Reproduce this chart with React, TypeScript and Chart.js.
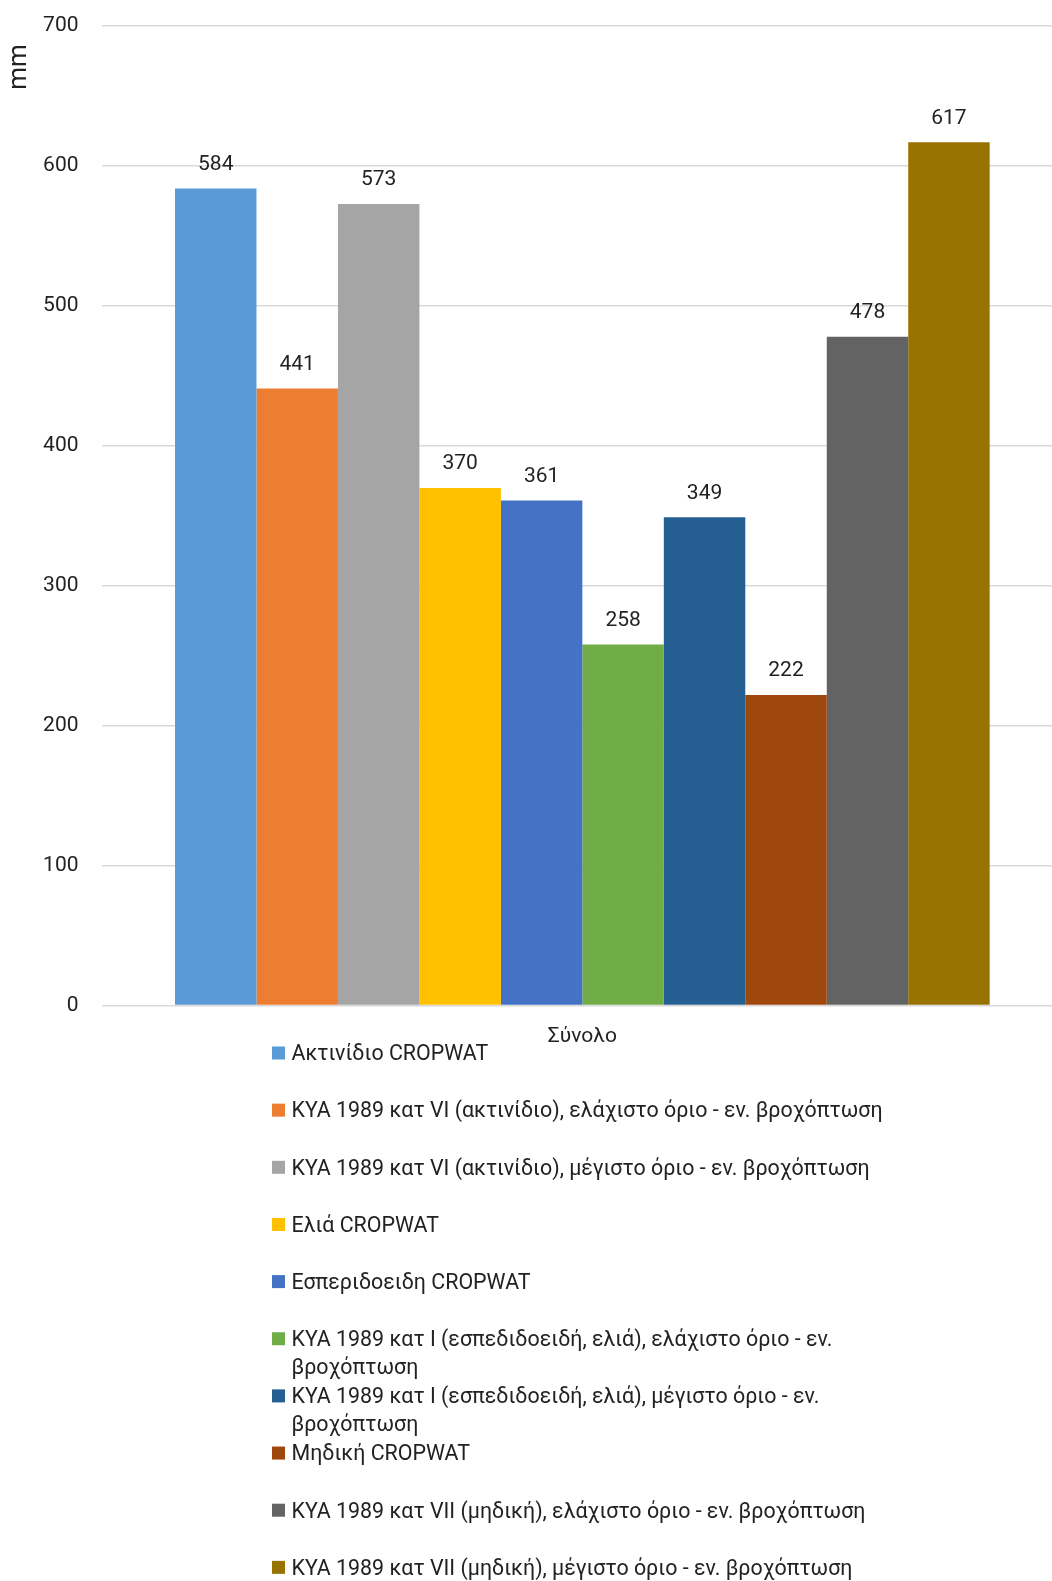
import React, { useEffect, useRef } from "react";
import { Chart, registerables } from "chart.js";

Chart.register(...registerables);

// Irrigation water requirements (mm), single category "Σύνολο"
const categories = ["Σύνολο"];

const seriesLabels = [
  "Ακτινίδιο CROPWAT",
  "ΚΥΑ 1989 κατ VI (ακτινίδιο), ελάχιστο όριο - εν. βροχόπτωση",
  "ΚΥΑ 1989 κατ VI (ακτινίδιο), μέγιστο όριο - εν. βροχόπτωση",
  "Ελιά CROPWAT",
  "Εσπεριδοειδη CROPWAT",
  "ΚΥΑ 1989 κατ I (εσπεδιδοειδή, ελιά), ελάχιστο όριο - εν. βροχόπτωση",
  "ΚΥΑ 1989 κατ I (εσπεδιδοειδή, ελιά), μέγιστο όριο - εν. βροχόπτωση",
  "Μηδική CROPWAT",
  "ΚΥΑ 1989 κατ VII (μηδική), ελάχιστο όριο - εν. βροχόπτωση",
  "ΚΥΑ 1989 κατ VII (μηδική), μέγιστο όριο - εν. βροχόπτωση",
];

const seriesValues = [584, 441, 573, 370, 361, 258, 349, 222, 478, 617];

const seriesColors = [
  "#5B9BD5",
  "#ED7D31",
  "#A5A5A5",
  "#FFC000",
  "#4472C4",
  "#70AD47",
  "#255E91",
  "#9E480E",
  "#636363",
  "#997300",
];

const yTicks = [0, 100, 200, 300, 400, 500, 600, 700];
const yTitle = "mm";

const FONT = "Roboto";
const TEXT = "#222222";

function wrapText(ctx: CanvasRenderingContext2D, text: string, maxWidth: number): string[] {
  const words = text.split(" ");
  const lines: string[] = [];
  let line = "";
  for (const w of words) {
    const test = line ? line + " " + w : w;
    if (ctx.measureText(test).width > maxWidth && line) {
      lines.push(line);
      line = w;
    } else {
      line = test;
    }
  }
  if (line) lines.push(line);
  return lines;
}

// Value labels above each bar
const valueLabels = {
  id: "valueLabels",
  afterDatasetsDraw(chart: any) {
    const ctx: CanvasRenderingContext2D = chart.ctx;
    ctx.save();
    ctx.font = `21px ${FONT}`;
    ctx.fillStyle = TEXT;
    ctx.textAlign = "center";
    ctx.textBaseline = "middle";
    chart.data.datasets.forEach((ds: any, i: number) => {
      const meta = chart.getDatasetMeta(i);
      meta.data.forEach((bar: any, j: number) => {
        ctx.fillText(String(ds.data[j]), bar.x, bar.y - 24);
      });
    });
    ctx.restore();
  },
};

// Rotated axis title at the top-left, and the one-per-row legend underneath
const titleAndLegend = {
  id: "titleAndLegend",
  afterDraw(chart: any) {
    const ctx: CanvasRenderingContext2D = chart.ctx;
    ctx.save();
    ctx.fillStyle = TEXT;
    ctx.font = `26px ${FONT}`;
    ctx.translate(19, 67);
    ctx.rotate(-Math.PI / 2);
    ctx.textAlign = "center";
    ctx.textBaseline = "middle";
    ctx.fillText(yTitle, 0, 0);
    ctx.restore();

    ctx.save();
    ctx.font = `21.4px ${FONT}`;
    ctx.textAlign = "left";
    ctx.textBaseline = "middle";
    const left = 272;
    const box = 13;
    const rowStep = 57.15;
    const lineStep = 28.2;
    const firstRow = 1053;
    chart.data.datasets.forEach((ds: any, i: number) => {
      const cy = firstRow + i * rowStep;
      ctx.fillStyle = ds.backgroundColor;
      ctx.fillRect(left, cy - box / 2, box, box);
      ctx.fillStyle = TEXT;
      const lines = wrapText(ctx, ds.label, 630);
      lines.forEach((ln, k) => ctx.fillText(ln, left + box + 6.5, cy + 2 + k * lineStep));
    });
    ctx.restore();
  },
};

export default function App() {
  const canvasRef = useRef<HTMLCanvasElement | null>(null);

  useEffect(() => {
    const canvas = canvasRef.current;
    if (!canvas) return;
    const chart = new Chart(canvas, {
      type: "bar",
      data: {
        labels: categories,
        datasets: seriesLabels.map((label, i) => ({
          label,
          data: [seriesValues[i]],
          backgroundColor: seriesColors[i],
          borderWidth: 0,
          categoryPercentage: 0.848,
          barPercentage: 1,
        })),
      },
      options: {
        responsive: false,
        devicePixelRatio: 1,
        animation: false,
        layout: { padding: { top: 26.2, left: 0, right: 1.3, bottom: 525.4 } },
        plugins: {
          legend: { display: false },
          tooltip: { enabled: false },
        },
        scales: {
          x: {
            grid: { display: false, drawTicks: false },
            border: { display: false },
            ticks: { font: { family: FONT, size: 21 }, color: TEXT, padding: 19 },
            afterFit: (scale: any) => {
              scale.height = 50;
              scale.paddingLeft = 0;
              scale.paddingRight = 0;
            },
          },
          y: {
            min: 0,
            max: 700,
            afterBuildTicks: (scale: any) => {
              scale.ticks = yTicks.map((v) => ({ value: v }));
            },
            grid: { color: "#d9d9d9", lineWidth: 1.5, drawTicks: false },
            border: { display: false },
            ticks: { font: { family: FONT, size: 21 }, color: TEXT, padding: 23.5 },
            afterFit: (scale: any) => {
              scale.width = 102;
              scale.paddingTop = 0;
              scale.paddingBottom = 0;
            },
          },
        },
      },
      plugins: [valueLabels, titleAndLegend],
    });
    return () => chart.destroy();
  }, []);

  return (
    <div
      style={{
        position: "absolute",
        left: 0,
        top: 0,
        width: 1052,
        height: 1581,
        overflow: "hidden",
        background: "#ffffff",
      }}
    >
      <canvas ref={canvasRef} width={1064} height={1581} style={{ display: "block" }} />
    </div>
  );
}
